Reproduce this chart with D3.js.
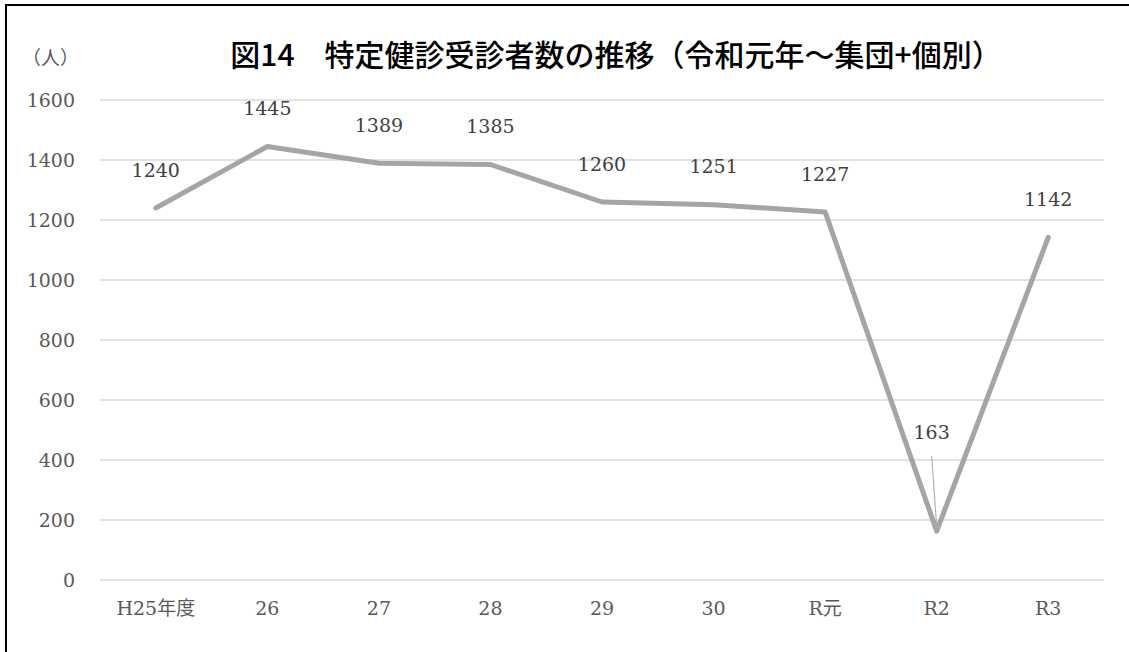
<!DOCTYPE html>
<html>
<head>
<meta charset="utf-8">
<script src="https://cdn.jsdelivr.net/npm/d3@7"></script>
<style>
  body { margin: 0; background: #fff; }
  svg { display: block; }
  .serif { font-family: "DejaVu Serif", "Noto Sans CJK JP", serif; }
</style>
</head>
<body>
<div id="chart"></div>
<script>
const categories = ['H25年度', '26', '27', '28', '29', '30', 'R元', 'R2', 'R3']
const values = [1240, 1445, 1389, 1385, 1260, 1251, 1227, 163, 1142]
const yTicks = [0, 200, 400, 600, 800, 1000, 1200, 1400, 1600]

const width = 1129
const height = 652
const margin = { top: 100, right: 25, bottom: 72, left: 100 }
const gothic = '"Noto Sans CJK JP", "Noto Sans", sans-serif'

const svg = d3.select('#chart')
    .append('svg')
    .attr('width', width)
    .attr('height', height)

// outer frame (runs past the right and bottom edge)
svg.append('rect')
    .attr('x', 6).attr('y', 5)
    .attr('width', width + 10).attr('height', height + 10)
    .attr('fill', 'none')
    .attr('stroke', '#000')
    .attr('stroke-width', 2)

const x = d3.scaleBand().domain(categories).range([margin.left, width - margin.right])
const y = d3.scaleLinear().domain([0, 1600]).range([height - margin.bottom, margin.top])

const g = svg.append('g')

// gridlines
g.append('g')
    .selectAll('line')
    .data(yTicks)
    .enter().append('line')
    .attr('x1', margin.left)
    .attr('x2', width - margin.right)
    .attr('y1', d => y(d))
    .attr('y2', d => y(d))
    .attr('stroke', '#d9d9d9')
    .attr('stroke-width', 1.5)

// y axis labels
const yAxis = g.append('g')
    .attr('transform', 'translate(' + (margin.left - 25) + ',0)')
    .call(d3.axisLeft(y).tickValues(yTicks).tickFormat(d3.format('d')).tickSize(0).tickPadding(0))
yAxis.select('.domain').remove()
yAxis.attr('font-family', null).attr('font-size', null)
yAxis.selectAll('text')
    .attr('class', 'serif')
    .style('font-size', '19px')
    .attr('fill', '#595959')

// x axis labels
const xAxis = g.append('g')
    .attr('transform', 'translate(0,' + (height - margin.bottom) + ')')
    .call(d3.axisBottom(x).tickSize(0).tickPadding(22))
xAxis.select('.domain').remove()
xAxis.attr('font-family', null).attr('font-size', null)
xAxis.selectAll('text')
    .attr('class', 'serif')
    .style('font-size', '19px')
    .attr('fill', '#595959')

const cx = d => x(d) + x.bandwidth() / 2

// line
const line = d3.line()
    .x((d, i) => cx(categories[i]))
    .y(d => y(d))

g.append('path')
    .datum(values)
    .attr('d', line)
    .attr('fill', 'none')
    .attr('stroke', '#a5a5a5')
    .attr('stroke-width', 5)
    .attr('stroke-linejoin', 'round')
    .attr('stroke-linecap', 'round')

// data labels
const labelOffset = 38
g.append('g')
    .selectAll('text')
    .data(values)
    .enter().append('text')
    .attr('class', 'serif')
    .attr('x', (d, i) => cx(categories[i]) + (d < 500 ? -5 : 0))
    .attr('y', (d, i) => d < 500 ? y(d) - 99 : y(d) - labelOffset)
    .attr('dy', '0.35em')
    .attr('text-anchor', 'middle')
    .style('font-size', '19px')
    .attr('fill', '#404040')
    .text(d => d)

// leader line for the low point
const low = values.filter(d => d < 500)
g.append('g')
    .selectAll('line')
    .data(low)
    .enter().append('line')
    .attr('x1', d => cx(categories[values.indexOf(d)]) - 5)
    .attr('y1', d => y(d) - 75)
    .attr('x2', d => cx(categories[values.indexOf(d)]))
    .attr('y2', d => y(d) - 5)
    .attr('stroke', '#a5a5a5')
    .attr('stroke-width', 1)

// unit
svg.append('text')
    .attr('x', 22).attr('y', 58)
    .attr('dy', '0.35em')
    .attr('font-family', gothic)
    .attr('font-size', 19)
    .attr('fill', '#595959')
    .text('（人）')

// title
svg.append('text')
    .attr('x', 616).attr('y', 55)
    .attr('dy', '0.35em')
    .attr('text-anchor', 'middle')
    .attr('font-family', gothic)
    .attr('font-size', 30)
    .attr('font-weight', 500)
    .attr('fill', '#000')
    .text('図14　特定健診受診者数の推移（令和元年～集団+個別）')
</script>
</body>
</html>
